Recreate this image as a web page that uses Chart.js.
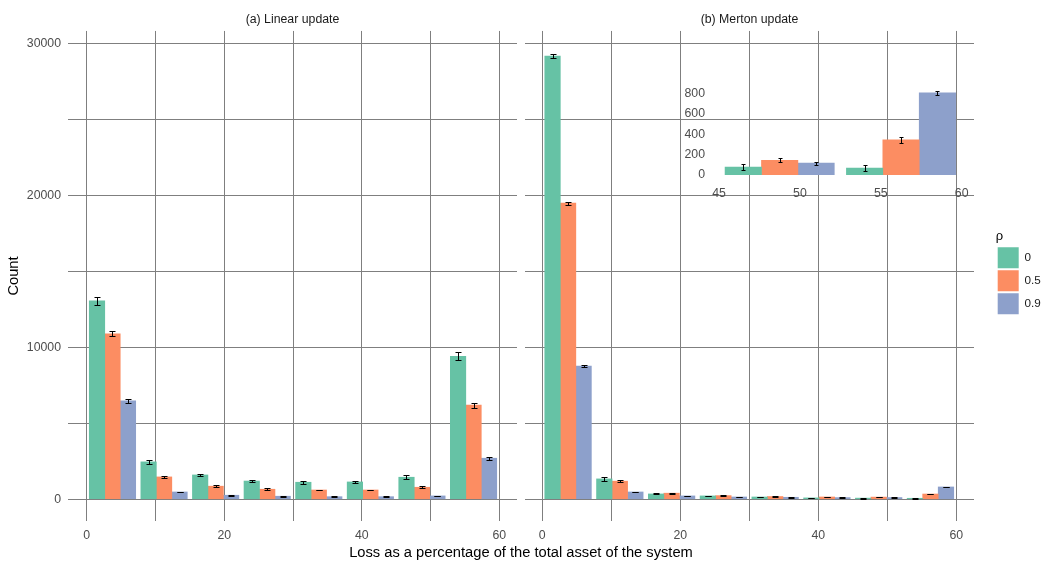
<!DOCTYPE html>
<html>
<head>
<meta charset="utf-8">
<title>Loss distribution</title>
<script src="https://cdn.jsdelivr.net/npm/chart.js@4.4.1/dist/chart.umd.min.js"></script>
<style>
  html, body { margin: 0; padding: 0; background: #fff; }
  body { width: 1055px; height: 568px; position: relative; overflow: hidden; font-family: "Liberation Sans", Arial, sans-serif; }
  canvas { position: absolute; }
  #linear { left: 0; top: 0; }
  #merton { left: 520px; top: 0; }
  #inset { left: 650px; top: 70px; }
  #xtitle { position: absolute; left: 0; width: 1042px; top: 544px; line-height: 16px; text-align: center; font-size: 14.7px; color: #000; }
</style>
</head>
<body>
<canvas id="linear" width="520" height="568"></canvas>
<canvas id="merton" width="535" height="568"></canvas>
<canvas id="inset" width="330" height="140"></canvas>
<div id="xtitle">Loss as a percentage of the total asset of the system</div>

<script>
// bins of 7.5 % loss, bars sit on the bin centres
const binCenters = [3.75, 11.25, 18.75, 26.25, 33.75, 41.25, 48.75, 56.25];
const rhoLabels = ['0', '0.5', '0.9'];
const rhoColors = ['#66C2A5', '#FC8D62', '#8DA0CB'];

// (a) Linear update
const linear0 = [13050, 2460, 1600, 1200, 1120, 1140, 1450, 9410];
const linear05 = [10880, 1470, 860, 660, 610, 610, 790, 6190];
const linear09 = [6470, 480, 265, 200, 170, 170, 220, 2700];
const linearErr0 = [250, 130, 60, 60, 90, 60, 120, 250];
const linearErr05 = [170, 50, 60, 50, 30, 30, 50, 160];
const linearErr09 = [120, 30, 20, 20, 20, 20, 20, 100];

// (b) Merton update
const merton0 = [29150, 1340, 350, 220, 150, 90, 75, 65];
const merton05 = [19490, 1190, 400, 240, 180, 150, 142, 345];
const merton09 = [8770, 480, 220, 150, 130, 110, 113, 810];
const mertonErr0 = [130, 130, 30, 20, 20, 20, 32, 34];
const mertonErr05 = [100, 70, 30, 20, 20, 20, 20, 29];
const mertonErr09 = [60, 30, 20, 20, 20, 20, 15, 23];

// ticks
const xGrid = [0, 10, 20, 30, 40, 50, 60];
const xLabeled = [0, 20, 40, 60];
const yGrid = [0, 5000, 10000, 15000, 20000, 25000, 30000];
const yLabeled = [0, 10000, 20000, 30000];
const insetFirstBin = 6;
const insetXTicks = [45, 50, 55, 60];
const insetYTicks = [0, 200, 400, 600, 800];

Chart.defaults.font.family = '"Liberation Sans", Arial, sans-serif';
Chart.defaults.font.size = 12.3;
Chart.defaults.color = '#4D4D4D';
Chart.defaults.animation = false;

const gridStyle = { color: '#7F7F7F', lineWidth: 1, drawTicks: false, offset: false };

// black error bars on top of each bar
const errorBars = {
    id: 'errorBars',
    afterDatasetsDraw(chart, args, opts) {
        const ctx = chart.ctx;
        const y = chart.scales.y;
        ctx.save();
        ctx.strokeStyle = '#000';
        ctx.lineWidth = 1;
        chart.data.datasets.forEach((ds, di) => {
            chart.getDatasetMeta(di).data.forEach((bar, i) => {
                const v = ds.data[i].y;
                const e = ds.errors[i];
                const top = Math.round(y.getPixelForValue(v + e)) + 0.5;
                const bot = Math.round(y.getPixelForValue(v - e)) + 0.5;
                const x = Math.round(bar.x) + 0.5;
                ctx.beginPath();
                ctx.moveTo(x, top); ctx.lineTo(x, bot);
                ctx.moveTo(x - opts.cap, top); ctx.lineTo(x + opts.cap, top);
                ctx.moveTo(x - opts.cap, bot); ctx.lineTo(x + opts.cap, bot);
                ctx.stroke();
            });
        });
        ctx.restore();
    }
};

function buildDatasets(series, errs, centers) {
    return series.map((vals, k) => ({
        label: rhoLabels[k],
        data: centers.map((x, i) => ({ x, y: vals[i] })),
        errors: errs[k],
        backgroundColor: rhoColors[k],
        borderWidth: 0,
        categoryPercentage: 0.9,
        barPercentage: 1,
        barThickness: 'flex'
    }));
}

function xScale(min, max, height) {
    return {
        type: 'linear', min, max, offset: false,
        afterBuildTicks: a => { a.ticks = xGrid.map(value => ({ value })); },
        afterFit: a => { a.height = height; },
        grid: gridStyle,
        border: { display: false },
        ticks: {
            padding: 7, autoSkip: false, maxRotation: 0,
            callback: v => xLabeled.includes(v) ? String(v) : ''
        }
    };
}

function yScale(showLabels, width) {
    return {
        type: 'linear', min: -1430, max: 30810,
        position: showLabels ? 'left' : 'right',
        afterBuildTicks: a => { a.ticks = yGrid.map(value => ({ value })); },
        afterFit: a => { a.width = width; },
        grid: gridStyle,
        border: { display: false },
        ticks: {
            display: showLabels, padding: 7,
            callback: v => yLabeled.includes(v) ? String(v) : ''
        },
        title: {
            display: showLabels, text: 'Count', color: '#000',
            font: { size: 14.7 }, padding: { top: 5.2, bottom: 0 }
        }
    };
}

function stripTitle(text) {
    return {
        display: true, text, fullSize: false, color: '#1A1A1A',
        font: { size: 12.3, weight: 'normal' },
        padding: { top: 12.5, bottom: 3.7 }
    };
}

new Chart(document.getElementById('linear'), {
    type: 'bar',
    data: {
        datasets: buildDatasets([linear0, linear05, linear09], [linearErr0, linearErr05, linearErr09], binCenters)
    },
    options: {
        responsive: false,
        layout: { padding: { left: 0, right: 3, top: 0, bottom: 0 } },
        plugins: {
            legend: { display: false },
            tooltip: { enabled: false },
            title: stripTitle('(a) Linear update'),
            errorBars: { cap: 3 }
        },
        scales: {
            x: xScale(-2.72, 62.57, 47),
            y: yScale(true, 68)
        }
    },
    plugins: [errorBars]
});

new Chart(document.getElementById('merton'), {
    type: 'bar',
    data: {
        datasets: buildDatasets([merton0, merton05, merton09], [mertonErr0, mertonErr05, mertonErr09], binCenters)
    },
    options: {
        responsive: false,
        layout: { padding: { left: 5, right: 4.2, top: 0, bottom: 24 } },
        plugins: {
            legend: {
                display: true, position: 'right',
                title: {
                    display: true, text: 'ρ', position: 'start', color: '#000',
                    font: { size: 13 }, padding: { top: 2, bottom: 0 }
                },
                labels: { boxWidth: 21, boxHeight: 21, padding: 2, color: '#1A1A1A', font: { size: 11.7 } }
            },
            tooltip: { enabled: false },
            title: stripTitle('(b) Merton update'),
            errorBars: { cap: 3 }
        },
        scales: {
            x: xScale(-2.49, 62.56, 23),
            y: yScale(false, 21.7)
        }
    },
    plugins: [errorBars]
});

// zoom on the last two bins of the Merton panel
const insetSeries = [merton0, merton05, merton09].map(s => s.slice(insetFirstBin));
const insetErrs = [mertonErr0, mertonErr05, mertonErr09].map(s => s.slice(insetFirstBin));

new Chart(document.getElementById('inset'), {
    type: 'bar',
    data: {
        datasets: buildDatasets(insetSeries, insetErrs, binCenters.slice(insetFirstBin))
    },
    options: {
        responsive: false,
        layout: { padding: { left: 0, right: 12.8, top: 14, bottom: 0 } },
        plugins: {
            legend: { display: false },
            tooltip: { enabled: false },
            errorBars: { cap: 2 }
        },
        scales: {
            x: {
                type: 'linear', min: 44.66, max: 60.34, offset: false,
                afterBuildTicks: a => { a.ticks = insetXTicks.map(value => ({ value })); },
                afterFit: a => { a.height = 31.4; },
                grid: { display: false, drawTicks: false, offset: false },
                border: { display: false },
                ticks: { padding: 7.5, autoSkip: false, maxRotation: 0 }
            },
            y: {
                type: 'linear', min: -40, max: 880,
                afterBuildTicks: a => { a.ticks = insetYTicks.map(value => ({ value })); },
                afterFit: a => { a.width = 63.5; },
                grid: { display: false, drawTicks: false },
                border: { display: false },
                ticks: { padding: 8.5 }
            }
        }
    },
    plugins: [errorBars]
});
</script>
</body>
</html>
